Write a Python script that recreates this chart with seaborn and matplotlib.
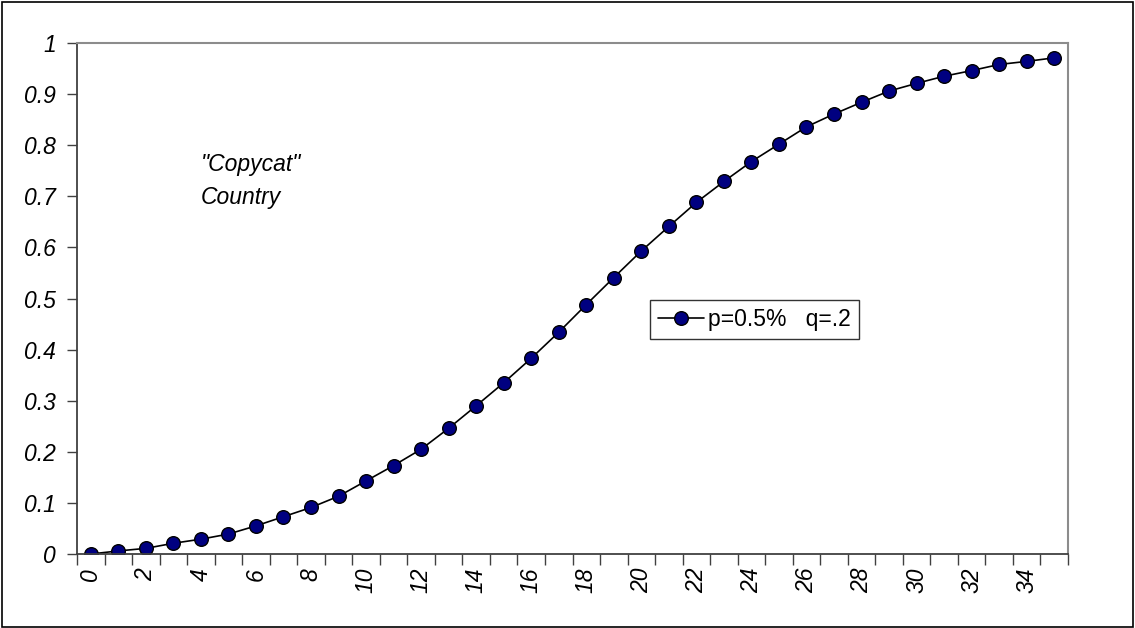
import matplotlib
matplotlib.use("Agg")
import matplotlib.pyplot as plt
from matplotlib.patches import Rectangle
import numpy as np
import pandas as pd
import seaborn as sns

# Cumulative adoption share by period
periods = list(range(36))
adoption = [0.000, 0.006, 0.011, 0.021, 0.029, 0.039, 0.055, 0.073, 0.091, 0.113,
            0.143, 0.173, 0.205, 0.246, 0.290, 0.335, 0.383, 0.434, 0.488, 0.541,
            0.593, 0.641, 0.688, 0.729, 0.768, 0.802, 0.836, 0.861, 0.884, 0.906,
            0.921, 0.935, 0.946, 0.958, 0.964, 0.971]
series_label = "p=0.5%   q=.2"
y_ticks = [0, 0.1, 0.2, 0.3, 0.4, 0.5, 0.6, 0.7, 0.8, 0.9, 1]
y_tick_labels = ["0", "0.1", "0.2", "0.3", "0.4", "0.5", "0.6", "0.7", "0.8", "0.9", "1"]
x_label_positions = list(range(0, 36, 2))

sns.set_theme(style="white")
plt.rcParams["font.family"] = ["Liberation Sans", "DejaVu Sans"]
plt.rcParams["text.color"] = "black"
plt.rcParams["xtick.color"] = "black"
plt.rcParams["ytick.color"] = "black"
plt.rcParams["axes.labelcolor"] = "black"

FS = 16.5

df = pd.DataFrame({"period": periods, "adoption": adoption})

fig = plt.figure(figsize=(11.35, 6.28), dpi=100)
ax = fig.add_axes([77 / 1135, 1 - 554 / 628, (1068 - 77) / 1135, (554 - 43) / 628])

sns.lineplot(data=df, x="period", y="adoption", ax=ax, color="black", linewidth=1.2,
             marker="o", markersize=9.8, markerfacecolor="#000080",
             markeredgecolor="black", markeredgewidth=1.0, label=series_label)

ax.set_xlim(-0.5, 35.5)
ax.set_ylim(0, 1)
ax.set_xlabel("")
ax.set_ylabel("")

# Category boundaries carry the tick marks; labels sit at the category centres
ax.set_xticks(np.arange(-0.5, 36, 1))
ax.set_xticklabels([])
ax.set_xticks(x_label_positions, minor=True)
ax.set_xticklabels([str(v) for v in x_label_positions], minor=True,
                   rotation=90, fontsize=FS, fontstyle="italic")
ax.tick_params(axis="x", which="major", direction="out", length=8, width=1,
               color="#404040", bottom=True)
ax.tick_params(axis="x", which="minor", length=0, pad=10, labelcolor="black")

ax.set_yticks(y_ticks)
ax.set_yticklabels(y_tick_labels, fontsize=FS, fontstyle="italic")
ax.tick_params(axis="y", which="major", direction="out", length=7, width=1,
               color="#404040", left=True, pad=8, labelcolor="black")

for side in ["left", "bottom"]:
    ax.spines[side].set_color("#404040")
    ax.spines[side].set_linewidth(1.3)
for side in ["top", "right"]:
    ax.spines[side].set_color("#8c8c8c")
    ax.spines[side].set_linewidth(1.5)

ax.text((201 - 77) / 991, (554 - 153) / 511, "\"Copycat\"\nCountry", transform=ax.transAxes,
        fontsize=FS, fontstyle="italic", ha="left", va="top", linespacing=1.55,
        color="black")

leg = ax.legend(loc="upper left", bbox_to_anchor=((650 - 77) / 991, (554 - 300) / 511),
                borderaxespad=0, fancybox=False, shadow=False, frameon=True,
                fontsize=FS, handlelength=2.0, handletextpad=0.2,
                borderpad=0.35, edgecolor="black")
leg.get_frame().set_linewidth(1.0)
for t in leg.get_texts():
    t.set_color("black")

fig.patches.append(Rectangle((0.0015, 0.002), 0.997, 0.995, transform=fig.transFigure,
                             fill=False, edgecolor="black", linewidth=1.2))

fig.savefig("out.png", dpi=100)
